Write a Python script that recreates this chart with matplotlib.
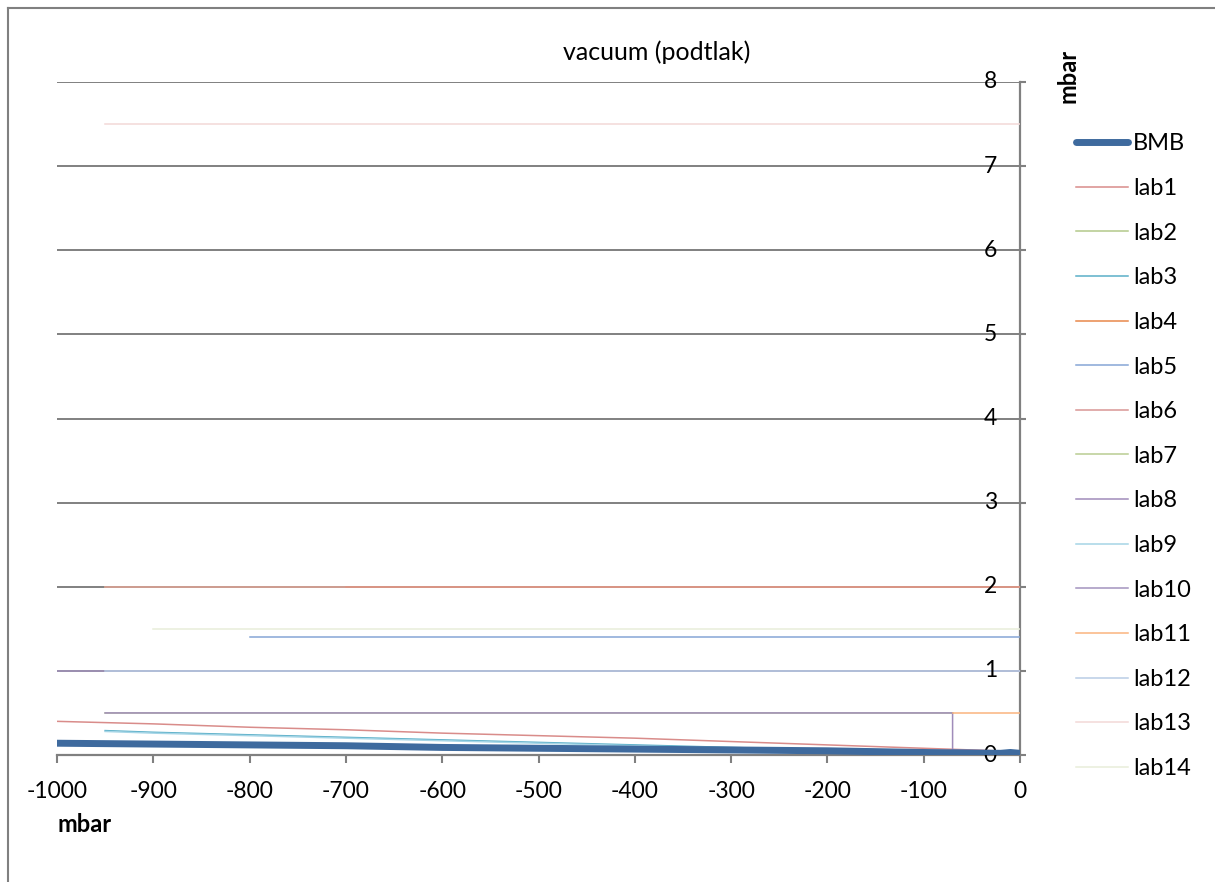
import matplotlib
matplotlib.use('Agg')
import matplotlib.pyplot as plt
from matplotlib.lines import Line2D

plt.rcParams['font.family'] = ['Lato', 'DejaVu Sans']
plt.rcParams['axes.unicode_minus'] = False

# data (mbar vs mbar)
bmb_x = [-1000, -900, -800, -700, -600, -500, -400, -300, -200, -100, -20, -10, 0]
bmb_y = [0.14, 0.13, 0.12, 0.11, 0.09, 0.08, 0.07, 0.06, 0.05, 0.03, 0.02, 0.03, 0.02]

lab1_x = [-1000, -900, -800, -700, -600, -500, -400, -300, -200, -100, 0]
lab1_y = [0.40, 0.37, 0.33, 0.30, 0.26, 0.23, 0.20, 0.16, 0.12, 0.08, 0.04]
lab2_x = [-950, 0]
lab2_y = [2.0, 2.0]
lab3_x = [-950, -900, -800, -700, -600, -500, -400, -300, -200, -100, 0]
lab3_y = [0.29, 0.27, 0.24, 0.21, 0.18, 0.15, 0.12, 0.09, 0.06, 0.03, 0.01]
lab4_x = [-700, 0]
lab4_y = [2.0, 2.0]
lab5_x = [-800, 0]
lab5_y = [1.4, 1.4]
lab6_x = [-950, 0]
lab6_y = [2.0, 2.0]
lab7_x = [-950, -70]
lab7_y = [0.5, 0.5]
lab8_x = [-950, -70, -70, 0]
lab8_y = [0.5, 0.5, 0.06, 0.04]
lab9_x = [-950, -900, -800, -700, -600, -500, -400, -300, -200, -100, 0]
lab9_y = [0.28, 0.26, 0.23, 0.20, 0.17, 0.14, 0.11, 0.08, 0.05, 0.03, 0.01]
lab10_x = [-1000, 0]
lab10_y = [1.0, 1.0]
lab11_x = [-70, 0]
lab11_y = [0.5, 0.5]
lab12_x = [-950, 0]
lab12_y = [1.0, 1.0]
lab13_x = [-950, 0]
lab13_y = [7.5, 7.5]
lab14_x = [-900, 0]
lab14_y = [1.5, 1.5]

labs = [
    ('lab1', lab1_x, lab1_y, '#D98C8A'),
    ('lab2', lab2_x, lab2_y, '#B3C98A'),
    ('lab3', lab3_x, lab3_y, '#5AAFC8'),
    ('lab4', lab4_x, lab4_y, '#E8874A'),
    ('lab5', lab5_x, lab5_y, '#86A6D6'),
    ('lab6', lab6_x, lab6_y, '#D99694'),
    ('lab7', lab7_x, lab7_y, '#B9CD92'),
    ('lab8', lab8_x, lab8_y, '#A08CBA'),
    ('lab9', lab9_x, lab9_y, '#A5D5E6'),
    ('lab10', lab10_x, lab10_y, '#A393BF'),
    ('lab11', lab11_x, lab11_y, '#FAB47E'),
    ('lab12', lab12_x, lab12_y, '#B9CDE5'),
    ('lab13', lab13_x, lab13_y, '#F2D8D7'),
    ('lab14', lab14_x, lab14_y, '#E8EEDA'),
]

fig = plt.figure(figsize=(12.15, 8.82), dpi=100)
ax = fig.add_axes([57/1215, (882-755)/882, (1020-57)/1215, (755-82)/882])

grid_col = '#808080'
for yv in range(1, 9):
    ax.axhline(yv, color=grid_col, lw=1.4, zorder=1)

ax.plot(bmb_x, bmb_y, color='#3E6A9E', lw=5, solid_capstyle='round', label='BMB', zorder=4)
for name, xs, ys, col in labs:
    ax.plot(xs, ys, color=col, lw=1.1, alpha=0.8, label=name, zorder=3)

ax.set_xlim(-1000, 0)
ax.set_ylim(0, 8)

for s in ['left', 'top']:
    ax.spines[s].set_visible(False)
ax.spines['right'].set_color(grid_col)
ax.spines['right'].set_linewidth(1.6)
ax.spines['bottom'].set_color(grid_col)
ax.spines['bottom'].set_linewidth(1.6)

ax.set_xticks(range(-1000, 1, 100))
ax.tick_params(axis='x', direction='out', length=6, width=1.5, color=grid_col,
               labelsize=16.5, pad=13)
ax.yaxis.tick_right()
ax.set_yticks(range(0, 9))
ax.tick_params(axis='y', direction='out', length=4, width=1.5, color=grid_col,
               labelright=False)
for yv in range(0, 9):
    ax.text(0.976, yv, str(yv), transform=ax.get_yaxis_transform(),
            ha='right', va='center', fontsize=16.5)

fig.text(657/1215, 1 - 52/882, 'vacuum (podtlak)', ha='center', va='center', fontsize=18)
fig.text(85/1215, 1 - 824/882, 'mbar', ha='center', va='center', fontsize=17, fontweight='bold')
fig.text(1068/1215, 1 - 76/882, 'mbar', ha='center', va='center', fontsize=17,
         fontweight='bold', rotation=90)

handles, labels = ax.get_legend_handles_labels()
for h in handles:
    h.set_alpha(1)
fig.legend(handles, labels, loc='upper left', bbox_to_anchor=(1067/1215, 1 - 124/882),
           frameon=False, fontsize=17, handlelength=2.2, handletextpad=0.2,
           labelspacing=1.0, borderaxespad=0)

# outer chart border
fig.add_artist(Line2D([8/1215, 1], [1 - 8/882, 1 - 8/882], color=grid_col, lw=1.5))
fig.add_artist(Line2D([8/1215, 8/1215], [0, 1 - 8/882], color=grid_col, lw=1.5))

fig.savefig('out.png', dpi=100)
